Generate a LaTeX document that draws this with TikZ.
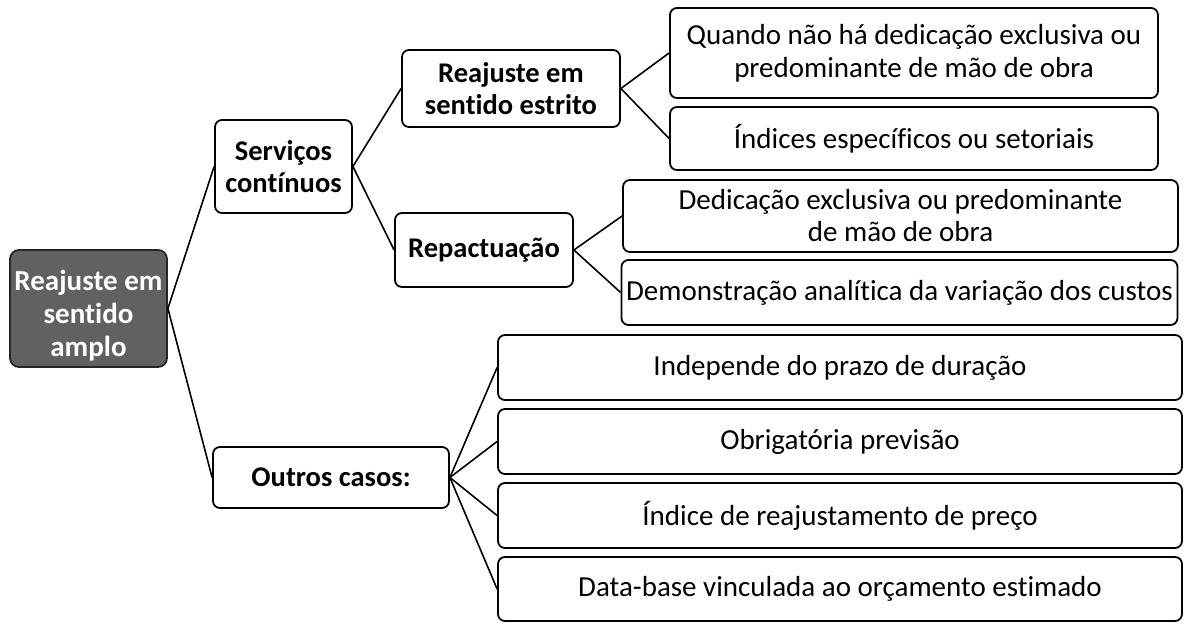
\documentclass[tikz,border=0pt]{standalone}
\usepackage{fontspec}
\setmainfont{Carlito}[RawFeature=-liga]
\begin{document}
\begin{tikzpicture}[x=1pt,y=-1pt,
  box/.style={draw=black, line width=1.8pt, rounded corners=7pt, fill=white,
    align=center, inner sep=2pt, font=\fontsize{29}{32}\selectfont},
  boldbox/.style={box, font=\fontsize{28.5}{32}\selectfont\bfseries},
  rootbox/.style={draw=black!85, line width=1.8pt, rounded corners=9pt, fill=black!62,
    text=white, inner sep=2pt, font=\fontsize{29}{33}\selectfont\bfseries},
  link/.style={draw=black, line width=1.6pt}]
\useasboundingbox (0,0) rectangle (1184,623);

\node[rootbox, minimum width=157pt, minimum height=117pt] (root) at (88.5,308.5)
  {\raisebox{-13pt}[0pt][0pt]{\parbox{150pt}{\centering Reajuste em\\sentido\\amplo}}};

\node[boldbox, minimum width=137pt, minimum height=93pt] (serv) at (283.5,166.5) {Serviços\\contínuos};
\node[boldbox, minimum width=236pt, minimum height=61pt] (outr) at (331,477.5) {Outros casos:};

\node[boldbox, minimum width=218pt, minimum height=77pt] (estr) at (511,88.5) {Reajuste em\\sentido estrito};
\node[boldbox, minimum width=178pt, minimum height=74pt] (repa) at (484,250) {Repactuação};

\node[box, minimum width=488pt, minimum height=90pt, font=\fontsize{29}{33}\selectfont] (quan) at (914,53) {Quando não há dedicação exclusiva ou\\predominante de mão de obra};
\node[box, minimum width=488pt, minimum height=63pt] (indc) at (914,138.5) {Índices específicos ou setoriais};
\node[box, minimum width=555pt, minimum height=72pt] (dedi) at (900.5,216) {Dedicação exclusiva ou predominante\\de mão de obra};
\node[box, minimum width=556pt, minimum height=65pt] (demo) at (899.5,292.5) {Demonstração analítica da variação dos custos};

\node[box, minimum width=684pt, minimum height=65pt] (inde) at (840,367.5) {Independe do prazo de duração};
\node[box, minimum width=684pt, minimum height=65pt] (obri) at (840,441.5) {Obrigatória previsão};
\node[box, minimum width=684pt, minimum height=65pt] (idxr) at (840,515.5) {Índice de reajustamento de preço};
\node[box, minimum width=684pt, minimum height=64pt] (data) at (840,589) {Data-base vinculada ao orçamento estimado};

\draw[link] (root.east) -- (serv.west);
\draw[link] (root.east) -- (outr.west);
\draw[link] (serv.east) -- (estr.west);
\draw[link] (serv.east) -- (repa.west);
\draw[link] (estr.east) -- (quan.west);
\draw[link] (estr.east) -- (indc.west);
\draw[link] (repa.east) -- (dedi.west);
\draw[link] (repa.east) -- (demo.west);
\draw[link] (outr.east) -- (inde.west);
\draw[link] (outr.east) -- (obri.west);
\draw[link] (outr.east) -- (idxr.west);
\draw[link] (outr.east) -- (data.west);
\end{tikzpicture}
\end{document}
